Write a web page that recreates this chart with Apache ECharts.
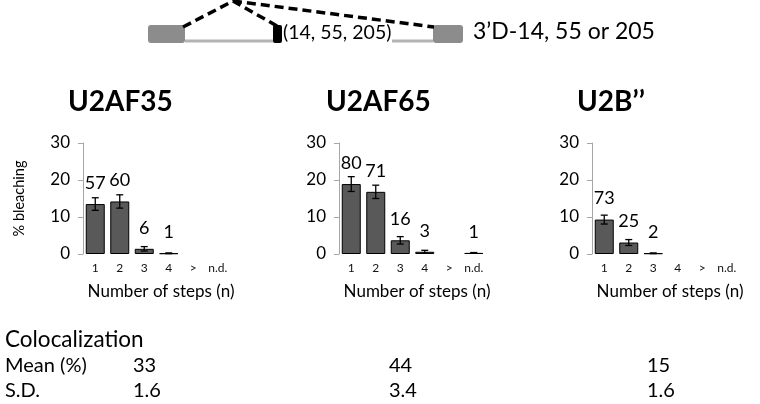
<!DOCTYPE html>
<html><head><meta charset="utf-8">
<script src="https://cdn.jsdelivr.net/npm/echarts@6/dist/echarts.min.js"></script>
<style>html,body{margin:0;padding:0;background:#fff;}#c{width:760px;height:404px;}</style>
</head><body><div id="c"></div>
<script>
var categories = ['1', '2', '3', '4', '>', 'n.d.'];
var panelTitles = ['U2AF35', 'U2AF65', 'U2B\u2019\u2019'];
var u2af35Mean = [13.5, 14.2, 1.4, 0.2, null, null];
var u2af35Err = [1.7, 1.8, 0.6, 0.1, null, null];
var u2af35Count = [57, 60, 6, 1, null, null];
var u2af65Mean = [18.9, 16.8, 3.7, 0.6, null, 0.3];
var u2af65Err = [2.0, 1.8, 1.0, 0.4, null, 0.1];
var u2af65Count = [80, 71, 16, 3, null, 1];
var u2bMean = [9.3, 3.1, 0.2, null, null, null];
var u2bErr = [1.2, 0.8, 0.1, null, null, null];
var u2bCount = [73, 25, 2, null, null, null];
var yTicks = [0, 10, 20, 30];
var coloc = { label: 'Colocalization', meanLabel: 'Mean (%)', sdLabel: 'S.D.', mean: ['33', '44', '15'], sd: ['1.6', '3.4', '1.6'] };

var FONT = 'Lato, "Open Sans", sans-serif';
var panels = [
  { mean: u2af35Mean, err: u2af35Err, count: u2af35Count },
  { mean: u2af65Mean, err: u2af65Err, count: u2af65Count },
  { mean: u2bMean, err: u2bErr, count: u2bCount }
];
var gridLefts = [83, 339, 592];
var grids = [], xAxes = [], yAxes = [], series = [];
panels.forEach(function (p, i) {
  grids.push({ left: gridLefts[i], top: 143, width: 147, height: 111 });
  xAxes.push({
    type: 'category', gridIndex: i, data: categories,
    axisLine: { show: false }, axisTick: { show: false },
    axisLabel: { fontSize: 12, color: '#111', margin: 8, fontFamily: FONT, interval: 0 },
    name: 'Number of steps (n)', nameLocation: 'middle', nameGap: 29,
    nameTextStyle: { fontSize: 17, color: '#000', fontFamily: FONT, padding: [0, 0, 0, 9] }
  });
  yAxes.push({
    type: 'value', gridIndex: i, min: yTicks[0], max: yTicks[yTicks.length - 1], interval: 10,
    splitLine: { show: false },
    axisLine: { show: true, lineStyle: { color: '#a6a6a6', width: 1 } },
    axisTick: { show: true, length: 5, lineStyle: { color: '#a6a6a6' } },
    axisLabel: { fontSize: 17, color: '#000', margin: 13, fontFamily: FONT },
    name: i === 0 ? '% bleaching' : '', nameLocation: 'middle', nameGap: 56, nameRotate: 90,
    nameTextStyle: { fontSize: 14.5, color: '#000', fontFamily: FONT }
  });
  series.push({
    type: 'bar', xAxisIndex: i, yAxisIndex: i, barWidth: 19,
    data: p.mean.map(function (v, k) { return v == null ? null : { value: v, cnt: p.count[k] }; }),
    itemStyle: { color: '#595959', borderColor: '#000', borderWidth: 1 },
    label: {
      show: true, position: 'top', distance: 12, fontSize: 18, color: '#000', fontFamily: FONT,
      formatter: function (pr) { return pr.data && pr.data.cnt != null ? String(pr.data.cnt) : ''; }
    },
    silent: true, animation: false
  });
  series.push({
    type: 'custom', xAxisIndex: i, yAxisIndex: i, silent: true, animation: false, z: 5,
    data: p.mean.map(function (v, k) { return v == null ? [k, null, null] : [k, v - p.err[k], v + p.err[k]]; }).filter(function (d) { return d[1] != null; }),
    renderItem: function (params, api) {
      var x = api.value(0);
      var lo = api.coord([x, api.value(1)]);
      var hi = api.coord([x, api.value(2)]);
      var w = 3.5;
      var st = { stroke: '#000', lineWidth: 1.3 };
      return { type: 'group', children: [
        { type: 'line', shape: { x1: lo[0], y1: lo[1], x2: hi[0], y2: hi[1] }, style: st },
        { type: 'line', shape: { x1: lo[0] - w, y1: lo[1], x2: lo[0] + w, y2: lo[1] }, style: st },
        { type: 'line', shape: { x1: hi[0] - w, y1: hi[1], x2: hi[0] + w, y2: hi[1] }, style: st }
      ] };
    }
  });
});

var titleCenters = [138, 396, 647];
var graphics = [];
panelTitles.forEach(function (t, i) {
  graphics.push({ type: 'text', left: titleCenters[i] - 70, top: 88, style: { text: t, width: 140, align: 'center', fontSize: 28, fontWeight: 'bold', fontFamily: FONT, fill: '#000' } });
});
// gene diagram
graphics.push(
  { type: 'line', shape: { x1: 185, y1: 41, x2: 273, y2: 41 }, style: { stroke: '#b3b3b3', lineWidth: 3 } },
  { type: 'line', shape: { x1: 392, y1: 41, x2: 433, y2: 41 }, style: { stroke: '#b3b3b3', lineWidth: 3 } },
  { type: 'rect', shape: { x: 148, y: 25, width: 37, height: 18, r: 3 }, style: { fill: '#8c8c8c' } },
  { type: 'rect', shape: { x: 433, y: 25, width: 30, height: 18, r: 3 }, style: { fill: '#8c8c8c' } },
  { type: 'rect', shape: { x: 273, y: 25, width: 9, height: 18, r: 2 }, style: { fill: '#000' } },
  { type: 'polyline', shape: { points: [[183, 27], [233, 1], [277, 26]] }, style: { stroke: '#000', lineWidth: 3.5, lineDash: [9, 5], fill: null } },
  { type: 'line', shape: { x1: 233, y1: 1, x2: 434, y2: 27 }, style: { stroke: '#000', lineWidth: 3.5, lineDash: [9, 5] } },
  { type: 'text', left: 283, top: 23, style: { text: '(14, 55, 205)', fontSize: 19.5, fontFamily: FONT, fill: '#000' } },
  { type: 'text', left: 473, top: 20, style: { text: '3\u2019D-14, 55 or 205', fontSize: 23, fontFamily: FONT, fill: '#000' } }
);
// colocalization table
graphics.push(
  { type: 'text', left: 5, top: 328, style: { text: coloc.label, fontSize: 22.5, fontFamily: FONT, fill: '#000' } },
  { type: 'text', left: 5, top: 356, style: { text: coloc.meanLabel, fontSize: 20, fontFamily: FONT, fill: '#000' } },
  { type: 'text', left: 5, top: 381, style: { text: coloc.sdLabel, fontSize: 20, fontFamily: FONT, fill: '#000' } }
);
var colX = [133, 389, 647];
colX.forEach(function (x, i) {
  graphics.push(
    { type: 'text', left: x, top: 356, style: { text: coloc.mean[i], fontSize: 20, fontFamily: FONT, fill: '#000' } },
    { type: 'text', left: x, top: 381, style: { text: coloc.sd[i], fontSize: 20, fontFamily: FONT, fill: '#000' } }
  );
});

var chart = echarts.init(document.getElementById('c'), null, { renderer: 'canvas' });
chart.setOption({
  backgroundColor: '#fff', animation: false,
  grid: grids, xAxis: xAxes, yAxis: yAxes, series: series, graphic: graphics
});
</script></body></html>
